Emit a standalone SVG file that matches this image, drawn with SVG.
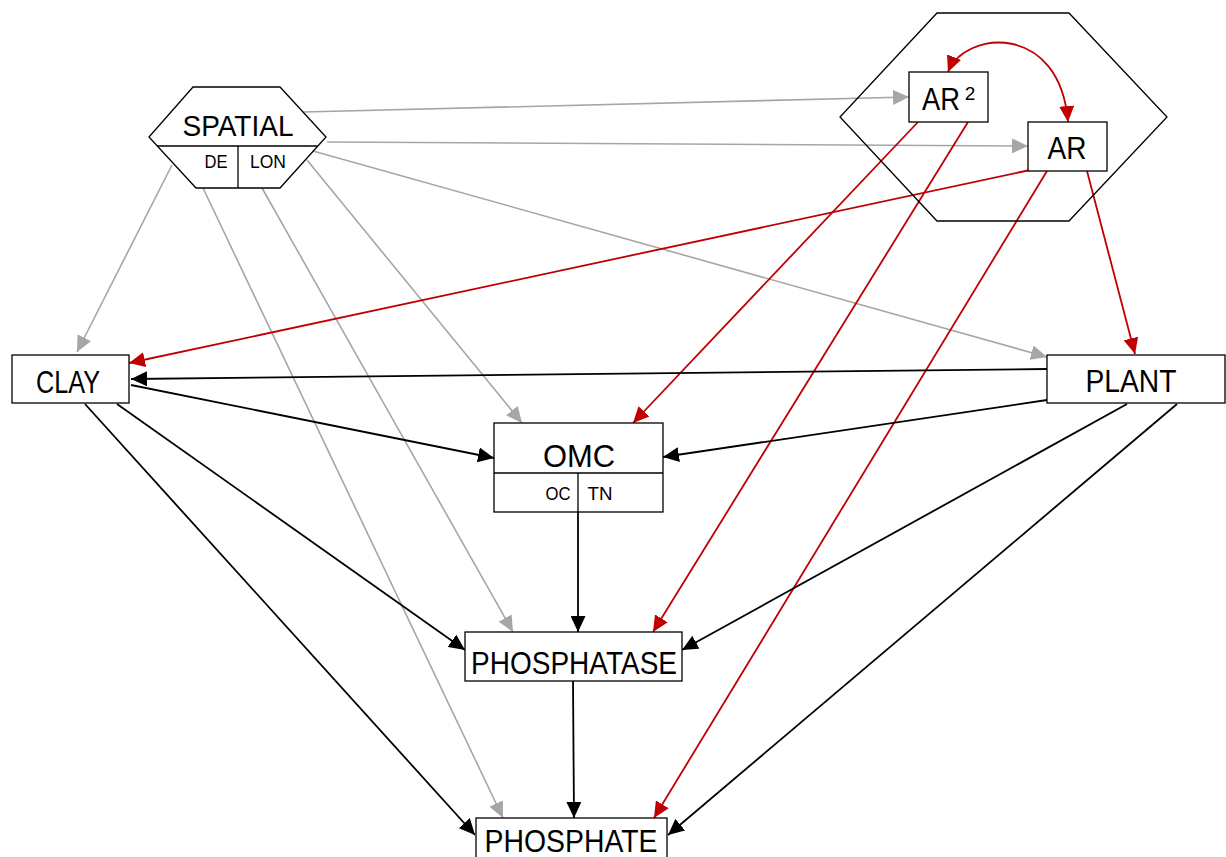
<svg xmlns="http://www.w3.org/2000/svg" width="1226" height="857" viewBox="0 0 1226 857">
<style>
.box{fill:#fff;stroke:#000;stroke-width:1.3}
.hex{fill:none;stroke:#000;stroke-width:1.3}
.t{font-family:"Liberation Sans",Arial,sans-serif;fill:#000;text-anchor:middle}
.big{font-size:32px}
.sm{font-size:19px}
.g{stroke:#a6a6a6;stroke-width:1.6;fill:none;marker-end:url(#ag)}
.r{stroke:#c00000;stroke-width:1.8;fill:none;marker-end:url(#ar)}
.k{stroke:#000;stroke-width:1.8;fill:none;marker-end:url(#ak)}
</style>
<defs>
<marker id="ag" markerUnits="userSpaceOnUse" markerWidth="17" markerHeight="15" refX="16" refY="7.5" orient="auto"><path d="M0,0 L16,7.5 L0,15 z" fill="#a6a6a6"/></marker>
<marker id="ar" markerUnits="userSpaceOnUse" markerWidth="17" markerHeight="15" refX="16" refY="7.5" orient="auto-start-reverse"><path d="M0,0 L16,7.5 L0,15 z" fill="#c00000"/></marker>
<marker id="ak" markerUnits="userSpaceOnUse" markerWidth="17" markerHeight="15" refX="16" refY="7.5" orient="auto"><path d="M0,0 L16,7.5 L0,15 z" fill="#000"/></marker>
</defs>
<rect width="1226" height="857" fill="#fff"/>
<g id="connectors">
<line class="g" x1="303" y1="112" x2="909" y2="97"/>
<line class="g" x1="327" y1="142" x2="1028" y2="146"/>
<line class="g" x1="313" y1="151" x2="1047" y2="357"/>
<line class="g" x1="172" y1="165" x2="77" y2="352"/>
<line class="g" x1="307" y1="160" x2="522" y2="423"/>
<line class="g" x1="262" y1="188" x2="513" y2="632"/>
<line class="g" x1="203" y1="188" x2="503" y2="818"/>
<line class="r" x1="918" y1="122" x2="633" y2="423"/>
<line class="r" x1="968" y1="122" x2="653" y2="632"/>
<line class="r" x1="1030" y1="170" x2="129" y2="363"/>
<line class="r" x1="1047" y1="171" x2="654" y2="818"/>
<line class="r" x1="1087" y1="171" x2="1135" y2="354"/>
<path class="r" style="marker-start:url(#ar)" d="M948,72 C965,30 1060,22 1068,122"/>
<line class="k" x1="1047" y1="369" x2="131" y2="379"/>
<line class="k" x1="131" y1="385" x2="494" y2="458"/>
<line class="k" x1="1047" y1="400" x2="663" y2="457"/>
<line class="k" x1="85" y1="404" x2="475" y2="835"/>
<line class="k" x1="117" y1="404" x2="465" y2="650"/>
<line class="k" x1="1127" y1="404" x2="682" y2="650"/>
<line class="k" x1="1177" y1="404" x2="668" y2="835"/>
<line class="k" x1="578" y1="512" x2="578" y2="632"/>
<line class="k" x1="573" y1="681" x2="574" y2="818"/>
</g>
<g id="spatial">
<polygon class="box" points="193,87 280,87 326,137 280,188 196,188 149,137"/>
<line x1="157" y1="146" x2="318" y2="146" stroke="#000" stroke-width="1.3"/>
<line x1="238" y1="146" x2="238" y2="188" stroke="#000" stroke-width="1.3"/>
<text class="t" x="238" y="136" font-size="30" textLength="111" lengthAdjust="spacingAndGlyphs">SPATIAL</text>
<text class="t sm" x="216" y="168" textLength="23" lengthAdjust="spacingAndGlyphs">DE</text>
<text class="t sm" x="268" y="168" textLength="36" lengthAdjust="spacingAndGlyphs">LON</text>
</g>
<g id="ar-group">
<polygon class="hex" points="937,13 1069,13 1167,117 1069,221 937,221 840,117"/>
</g>
<g id="ar2">
<rect class="box" x="909" y="72" width="79" height="50"/>
<text class="t big" x="941" y="110" textLength="38" lengthAdjust="spacingAndGlyphs">AR</text>
<text class="t" x="970" y="100" font-size="19">2</text>
</g>
<g id="ar">
<rect class="box" x="1028" y="122" width="79" height="49"/>
<text class="t big" x="1067" y="159" textLength="39" lengthAdjust="spacingAndGlyphs">AR</text>
</g>
<g id="clay">
<rect class="box" x="12" y="355" width="117" height="48"/>
<text class="t big" x="68" y="393" textLength="64" lengthAdjust="spacingAndGlyphs">CLAY</text>
</g>
<g id="plant">
<rect class="box" x="1047" y="355" width="178" height="48"/>
<text class="t big" x="1131" y="392" textLength="91" lengthAdjust="spacingAndGlyphs">PLANT</text>
</g>
<g id="omc">
<rect class="box" x="494" y="423" width="169" height="89"/>
<line x1="494" y1="473" x2="663" y2="473" stroke="#000" stroke-width="1.3"/>
<line x1="578" y1="473" x2="578" y2="512" stroke="#000" stroke-width="1.3"/>
<text class="t big" x="579" y="467" textLength="72" lengthAdjust="spacingAndGlyphs">OMC</text>
<text class="t sm" x="558" y="500" textLength="25" lengthAdjust="spacingAndGlyphs">OC</text>
<text class="t sm" x="600" y="500" textLength="25" lengthAdjust="spacingAndGlyphs">TN</text>
</g>
<g id="phosphatase">
<rect class="box" x="465" y="632" width="217" height="49"/>
<text class="t big" x="574" y="674" textLength="206" lengthAdjust="spacingAndGlyphs">PHOSPHATASE</text>
</g>
<g id="phosphate">
<rect class="box" x="476" y="818" width="191" height="50"/>
<text class="t big" x="571" y="852" textLength="173" lengthAdjust="spacingAndGlyphs">PHOSPHATE</text>
</g>
</svg>
